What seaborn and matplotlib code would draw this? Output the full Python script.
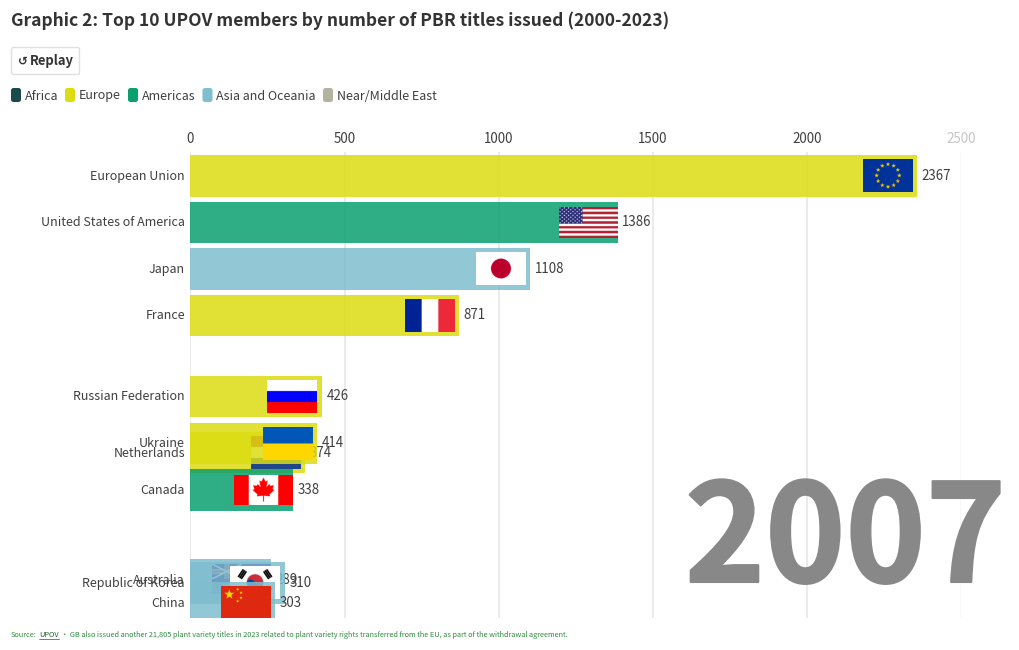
import numpy as np
import pandas as pd
import seaborn as sns
import matplotlib.pyplot as plt
import matplotlib.patheffects as pe
from matplotlib.patches import FancyBboxPatch
from matplotlib.path import Path
from matplotlib.transforms import Affine2D

# Data, one frame (2007) of the animation, some bars still moving to their value
countries = ["European Union", "United States of America", "Japan", "France",
             "Russian Federation", "Netherlands", "Ukraine", "Canada",
             "Australia", "Republic of Korea", "China"]
regions = ["Europe", "Americas", "Asia and Oceania", "Europe",
           "Europe", "Europe", "Europe", "Americas",
           "Asia and Oceania", "Asia and Oceania", "Asia and Oceania"]
bar_values = [2356, 1385, 1100, 871, 425, 372, 409, 333, 260, 305, 274]
shown_values = [2367, 1386, 1108, 871, 426, 374, 414, 338, 289, 310, 303]
row_pos = [0, 1, 2, 3, 4.74, 5.95, 5.75, 6.76, 8.68, 8.75, 9.19]
flag_ratio = [1.5, 1.9, 1.5, 1.5, 1.5, 1.5, 1.5, 2, 2, 1.5, 1.5]

legend_names = ["Africa", "Europe", "Americas", "Asia and Oceania", "Near/Middle East"]
legend_colors = ["#1b4a4c", "#dcdc12", "#0a9f6f", "#7fbdcf", "#b4b2a0"]
x_ticks = [0, 500, 1000, 1500, 2000, 2500]

TEXT = "#3f3f3f"
PX_LEFT, PX_RIGHT, PX_TOP, PX_BOTTOM = 190.5, 961.5, 152, 618
ROW_PX = 46.5
BOX_W, BOX_H = 58.7, 33

sns.set_theme(style="whitegrid")
plt.rcParams["font.family"] = ["Noto Sans CJK SC", "DejaVu Sans"]


def star(cx, cy, r, rot=0.0):
    ang = np.arange(10) * np.pi / 5 - np.pi / 2 + rot
    rad = np.where(np.arange(10) % 2 == 0, r, r * 0.4)
    return np.c_[cx + rad * np.cos(ang), cy + rad * np.sin(ang)]


def canvas(ratio, color="#ffffff", h=120):
    w = int(round(h * ratio))
    img = np.ones((h, w, 3)) * np.array(plt.matplotlib.colors.to_rgb(color))
    yy, xx = np.mgrid[0:h, 0:w]
    return img, (xx + 0.5) / h, (yy + 0.5) / h  # both in units of flag height


def fill(img, mask, color):
    img[mask] = plt.matplotlib.colors.to_rgb(color)


def poly(img, xx, yy, pts, color):
    mask = Path(pts).contains_points(np.c_[xx.ravel(), yy.ravel()]).reshape(xx.shape)
    fill(img, mask, color)


def bands(colors, ratio=1.5, vertical=False):
    img, xx, yy = canvas(ratio)
    t = xx / ratio if vertical else yy
    for i, c in enumerate(colors):
        fill(img, (t >= i / len(colors)) & (t <= (i + 1) / len(colors)), c)
    return img


def flag_eu(r):
    img, xx, yy = canvas(r, "#003399")
    for a in np.arange(12) * np.pi / 6:
        poly(img, xx, yy, star(r / 2 + 0.34 * np.cos(a), 0.5 + 0.34 * np.sin(a), 0.07), "#ffcc00")
    return img


def flag_us(r):
    img, xx, yy = canvas(r)
    for i in range(0, 13, 2):
        fill(img, (yy >= i / 13) & (yy < (i + 1) / 13), "#b22234")
    fill(img, (xx < 0.76) & (yy < 7 / 13), "#2c2f78")
    for j in range(9):
        for i in range(11):
            if (i + j) % 2 == 0:
                fill(img, (xx - (i + 0.5) * 0.069) ** 2 + (yy - (j + 0.5) * 0.06) ** 2 < 0.019 ** 2, "#ffffff")
    return img


def flag_japan(r):
    img, xx, yy = canvas(r)
    fill(img, (xx - r / 2) ** 2 + (yy - 0.5) ** 2 < 0.3 ** 2, "#bc002d")
    return img


def flag_canada(r):
    img, xx, yy = canvas(r, "#ff0000")
    fill(img, (xx >= 0.5) & (xx <= 1.5), "#ffffff")
    half = [(0, -0.42), (0.07, -0.28), (0.14, -0.32), (0.10, -0.1), (0.2, -0.2), (0.23, -0.14),
            (0.35, -0.16), (0.31, -0.03), (0.37, 0.0), (0.2, 0.15), (0.23, 0.21), (0.02, 0.19),
            (0.02, 0.38)]
    half = np.array(half)
    pts = np.vstack([half, half[::-1] * [-1, 1]]) + [1, 0.5]
    poly(img, xx, yy, pts, "#ff0000")
    return img


def flag_australia(r):
    img, xx, yy = canvas(r, "#00008b")
    fill(img, (xx < 1) & (yy < 0.5) & ((np.abs(xx - 0.5) < 0.07) | (np.abs(yy - 0.25) < 0.07)), "#ffffff")
    fill(img, (xx < 1) & (yy < 0.5) & ((np.abs(xx - 0.5) < 0.04) | (np.abs(yy - 0.25) < 0.04)), "#cc1122")
    fill(img, (xx < 1) & (yy < 0.5) & ((np.abs(yy - xx / 2) < 0.03) | (np.abs(yy - 0.5 + xx / 2) < 0.03)), "#ffffff")
    poly(img, xx, yy, star(0.5, 0.75, 0.13), "#ffffff")
    for cx, cy in [(1.5, 0.18), (1.25, 0.45), (1.75, 0.38), (1.5, 0.82)]:
        poly(img, xx, yy, star(cx, cy, 0.06), "#ffffff")
    return img


def flag_korea(r):
    img, xx, yy = canvas(r)
    cx = r / 2
    dx, dy = xx - cx, yy - 0.5
    circle = dx ** 2 + dy ** 2 < 0.25 ** 2
    fill(img, circle & (dy < 0.1 * np.sin(dx * 12)), "#cd2e3a")
    fill(img, circle & (dy >= 0.1 * np.sin(dx * 12)), "#0047a0")
    # trigrams, three bars each in the four corners
    for sx, sy in [(-1, -1), (1, -1), (-1, 1), (1, 1)]:
        u = (dx * sx * 0.83 + dy * sy * 0.55)
        v = (-dx * sx * 0.55 + dy * sy * 0.83)
        for k in range(3):
            fill(img, (np.abs(v) < 0.14) & (np.abs(u - 0.40 - k * 0.055) < 0.024), "#000000")
    return img


def flag_china(r):
    img, xx, yy = canvas(r, "#de2910")
    poly(img, xx, yy, star(0.25, 0.25, 0.15), "#ffde00")
    for cx, cy in [(0.5, 0.1), (0.6, 0.2), (0.6, 0.35), (0.5, 0.45)]:
        poly(img, xx, yy, star(cx, cy, 0.05), "#ffde00")
    return img


flag_makers = {
    "European Union": flag_eu,
    "United States of America": flag_us,
    "Japan": flag_japan,
    "France": lambda r: bands(["#002395", "#ffffff", "#ed2939"], r, vertical=True),
    "Russian Federation": lambda r: bands(["#ffffff", "#0000ff", "#ff0000"], r),
    "Netherlands": lambda r: bands(["#ae1c28", "#ffffff", "#21468b"], r),
    "Ukraine": lambda r: bands(["#0057b8", "#ffd700"], r),
    "Canada": flag_canada,
    "Australia": flag_australia,
    "Republic of Korea": flag_korea,
    "China": flag_china,
}

df = pd.DataFrame({"country": countries, "region": regions, "value": bar_values,
                   "shown": shown_values, "row": row_pos, "ratio": flag_ratio})
palette = dict(zip(legend_names, legend_colors))

fig = plt.figure(figsize=(10.2, 6.5), dpi=100)
ax = fig.add_axes([PX_LEFT / 1020, 1 - PX_BOTTOM / 650,
                   (PX_RIGHT - PX_LEFT) / 1020, (PX_BOTTOM - PX_TOP) / 650])
px_per_unit = (PX_RIGHT - PX_LEFT) / x_ticks[-1]

# Bars go on one at a time: later ones cover flags and labels of the earlier ones
for i, row in df.iterrows():
    z = 3 + i
    before = len(ax.patches)
    sns.barplot(data=df[df["country"] == row["country"]], x="value", y="row", orient="h",
                native_scale=True, width=0.895, color=palette[row["region"]], saturation=1,
                alpha=0.85, ax=ax)
    for p in ax.patches[before:]:
        p.set_zorder(z)
        p.set_linewidth(0)

    flag_w = min(BOX_W, BOX_H * row["ratio"])
    flag_h = flag_w / row["ratio"]
    centre = row["value"] - BOX_W / 2 / px_per_unit
    half_x = flag_w / 2 / px_per_unit
    half_y = flag_h / 2 / ROW_PX
    ax.imshow(flag_makers[row["country"]](row["ratio"]), aspect="auto", zorder=z,
              extent=[centre - half_x, centre + half_x, row["row"] + half_y, row["row"] - half_y])
    ax.annotate(str(row["shown"]), xy=(row["value"], row["row"]), xytext=(3.4, 0),
                textcoords="offset points", va="center", ha="left", fontsize=9.6,
                color=TEXT, zorder=z, annotation_clip=False)

top_row = -0.515
ax.set_xlim(0, x_ticks[-1])
ax.set_ylim((PX_BOTTOM - PX_TOP) / ROW_PX + top_row, top_row)
ax.set_xlabel("")
ax.set_ylabel("")
ax.set_xticks(x_ticks)
ax.set_yticks(row_pos)
ax.set_yticklabels(countries)
ax.xaxis.tick_top()
ax.tick_params(axis="x", length=0, pad=4, labelsize=9.6, labelcolor=TEXT)
ax.tick_params(axis="y", length=0, pad=4, labelsize=9, labelcolor=TEXT)
ax.grid(axis="y", visible=False)
ax.grid(axis="x", color="#e6e6e6", linewidth=1.1)
ax.set_axisbelow(True)
ax.get_xgridlines()[-1].set_alpha(0.35)
ax.get_xticklabels()[-1].set_alpha(0.3)
for lab in ax.get_yticklabels():
    lab.set_transform(lab.get_transform() + Affine2D().translate(0, 1))
sns.despine(ax=ax, left=True, bottom=True, top=True, right=True)

# Everything outside the plot is placed in pixels from the top left corner
px = Affine2D().scale(1, -1).translate(0, 650)

fig.text(11, 21, "Graphic 2: Top 10 UPOV members by number of PBR titles issued (2000-2023)",
         transform=px, fontsize=12.55, fontweight="bold", color="#333333", va="center")

fig.add_artist(FancyBboxPatch((11.5, 47.5), 68, 27, boxstyle="round,pad=0,rounding_size=2", transform=px,
                              facecolor="white", edgecolor="#e0e0e0", linewidth=1))
fig.text(23, 61, "\u21ba", transform=px, fontsize=8.5, fontweight="bold", color="#333333",
         va="center", ha="center", family=["DejaVu Sans"])
fig.text(30, 61, "Replay", transform=px, fontsize=9.4, fontweight="bold", color="#333333", va="center")

for name, col, swatch_x, text_x in zip(legend_names, legend_colors, [11, 65, 128, 202.5, 323],
                                       [25, 79, 142, 216, 337]):
    fig.add_artist(FancyBboxPatch((swatch_x, 88), 10, 14, boxstyle="round,pad=0,rounding_size=2.5",
                                  transform=px, facecolor=col, edgecolor="none"))
    fig.text(text_x, 96, name, transform=px, fontsize=9, color=TEXT, va="center")

year = fig.text(1006, 582, "2007", transform=px, fontsize=98, fontweight="bold", color="#888888",
                ha="right", va="baseline", zorder=30)
year.set_path_effects([pe.withStroke(linewidth=1.5, foreground="#888888")])

# Footer in three pieces so that UPOV can be underlined
renderer = fig.canvas.get_renderer()
green = "#2e8b3d"
x = 11
for piece, col in [("Source:", green), ("UPOV", "#1f5f2c"),
                   ("\u2022 GB also issued another 21,805 plant variety titles in 2023 related to plant variety "
                    "rights transferred from the EU, as part of the withdrawal agreement.", green)]:
    t = fig.text(x, 635, piece, transform=px, fontsize=5.28, color=col, va="center")
    bb = t.get_window_extent(renderer)
    if piece == "UPOV":
        fig.add_artist(plt.Line2D([x, x + bb.width], [639, 639], transform=px, color=col, linewidth=0.5))
    x += bb.width + 2.5

fig.savefig("out.png", dpi=100)
